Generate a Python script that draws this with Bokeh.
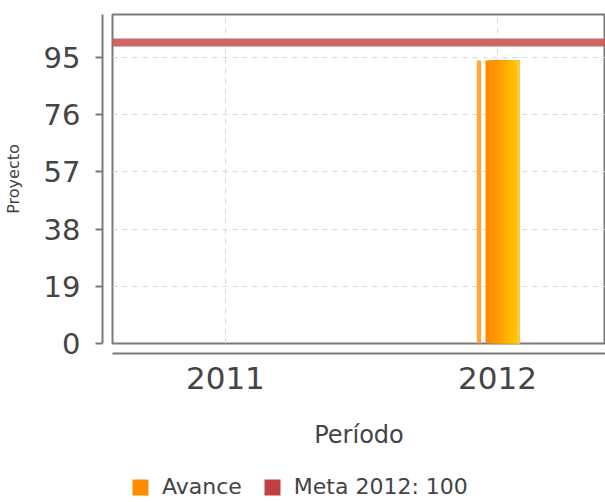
from bokeh.plotting import figure
from bokeh.layouts import column
from bokeh.models import (Range1d, FixedTicker, LinearAxis, Span, Legend, LegendItem,
                          ColumnDataSource)
from bokeh.transform import dodge
from bokeh.embed import file_html
from bokeh.resources import INLINE

# ---- data ----
periods = [2011, 2012]
avance = [0, 94]
meta_label = "Meta 2012: 100"
meta_value = 100
y_ticks = [0, 19, 38, 57, 76, 95]

FONT = "DejaVu Sans"
AXIS_GREY = "#7a7a7a"
TEXT = "#444444"

p = figure(width=605, height=470, output_backend="svg", toolbar_location=None,
           x_range=Range1d(2010.585, 2012.397), y_range=Range1d(0, 109.3),
           x_axis_location=None, y_axis_location=None,
           min_border_left=112, min_border_right=0, min_border_top=14, min_border_bottom=127)
p.background_fill_color = "white"
p.border_fill_color = "white"
p.outline_line_color = AXIS_GREY
p.outline_line_width = 2

# invisible spacer axes: leave a gap between the frame and the visible axes
for side, ticks in (("left", y_ticks), ("below", periods)):
    sp = LinearAxis(ticker=FixedTicker(ticks=ticks), axis_line_color=None,
                    major_tick_line_color=None, minor_tick_line_color=None,
                    major_tick_out=10, major_tick_in=0, minor_tick_out=0, minor_tick_in=0,
                    major_label_standoff=0, major_label_text_font_size="0px",
                    major_label_text_alpha=0, axis_label=None)
    p.add_layout(sp, side)

yaxis = LinearAxis(ticker=FixedTicker(ticks=y_ticks), axis_label="Proyecto",
                   axis_line_color=AXIS_GREY, axis_line_width=2,
                   major_tick_line_color=AXIS_GREY, major_tick_line_width=2,
                   major_tick_out=7, major_tick_in=0,
                   minor_tick_line_color=None,
                   major_label_standoff=15,
                   major_label_text_font=FONT, major_label_text_font_size="29px",
                   major_label_text_color=TEXT,
                   axis_label_text_font=FONT, axis_label_text_font_size="16px",
                   axis_label_text_font_style="normal", axis_label_text_color=TEXT,
                   axis_label_standoff=18)
p.add_layout(yaxis, "left")

xaxis = LinearAxis(ticker=FixedTicker(ticks=periods), axis_label="Período",
                   axis_line_color=AXIS_GREY, axis_line_width=2,
                   major_tick_line_color=None, major_tick_out=0, major_tick_in=0,
                   minor_tick_line_color=None,
                   major_label_standoff=13,
                   major_label_text_font=FONT, major_label_text_font_size="31px",
                   major_label_text_color=TEXT,
                   axis_label_text_font=FONT, axis_label_text_font_size="24px",
                   axis_label_text_font_style="normal", axis_label_text_color=TEXT,
                   axis_label_standoff=29)
p.add_layout(xaxis, "below")

# grid
p.xgrid.ticker = FixedTicker(ticks=periods)
p.ygrid.ticker = FixedTicker(ticks=y_ticks)
for g in (p.xgrid, p.ygrid):
    g.grid_line_color = "#d8d8d8"
    g.grid_line_dash = "5 5"
    g.grid_line_width = 1

src = ColumnDataSource(dict(period=periods, avance=avance))

# thin left stripe of the bar
p.vbar(x=dodge("period", -0.068, range=p.x_range), top="avance", width=0.016,
       source=src, fill_color="#FFA53A", line_color=None)
# main bar with a horizontal gradient: layered bars, each one starting further
# right and all ending at the bar's right edge (no seams between strips)
grad = ["#FF8C00", "#FF8D00", "#FF8F00", "#FF9200", "#FF9600",
        "#FF9B00", "#FFA000", "#FFA600", "#FFAC00", "#FFB200", "#FFB800",
        "#FFBD00", "#FFC100", "#FFC300", "#FFC84A"]
n = len(grad)
left_edge = -0.044
total_w = 0.126
right_edge = left_edge + total_w
main_r = None
for i, c in enumerate(grad):
    start = left_edge + total_w * (i / n) * (1.0 if i < n - 1 else 0.985)
    w = right_edge - start
    r = p.vbar(x=dodge("period", start + w / 2, range=p.x_range), top="avance", width=w,
               source=src, fill_color=c, line_color=None)
    if main_r is None:
        main_r = r

# meta line
meta = Span(location=meta_value, dimension="width", line_color="#C85A5A",
            line_width=8, line_alpha=0.92)
p.add_layout(meta)

# ---- legend strip below the chart ----
lg = figure(width=605, height=32, output_backend="svg", toolbar_location=None,
            x_range=Range1d(0, 1), y_range=Range1d(0, 1),
            x_axis_location=None, y_axis_location=None,
            min_border_left=0, min_border_right=0, min_border_top=0, min_border_bottom=0)
lg.outline_line_color = None
lg.xgrid.visible = False
lg.ygrid.visible = False
# renderers for the swatches (outside the visible ranges of this strip)
av_r = lg.vbar(x="period", top="avance", width=0.1, source=src,
               fill_color="#FF8C00", line_color=None)
mt_r = lg.hstrip(y0=[meta_value], y1=[meta_value], fill_color="#C0403F", line_color=None)

legend = Legend(items=[LegendItem(label="Avance", renderers=[av_r]),
                       LegendItem(label=meta_label, renderers=[mt_r])],
                orientation="horizontal", location=(18, 3),
                glyph_width=20, glyph_height=20, label_text_font=FONT,
                label_text_font_size="22px", label_text_color=TEXT,
                border_line_color=None, background_fill_alpha=0,
                spacing=20, label_standoff=12, padding=0, margin=0,
                label_height=20)
lg.add_layout(legend, "center")

layout = column(p, lg, spacing=0)
open("out.html", "w").write(file_html(layout, INLINE))
